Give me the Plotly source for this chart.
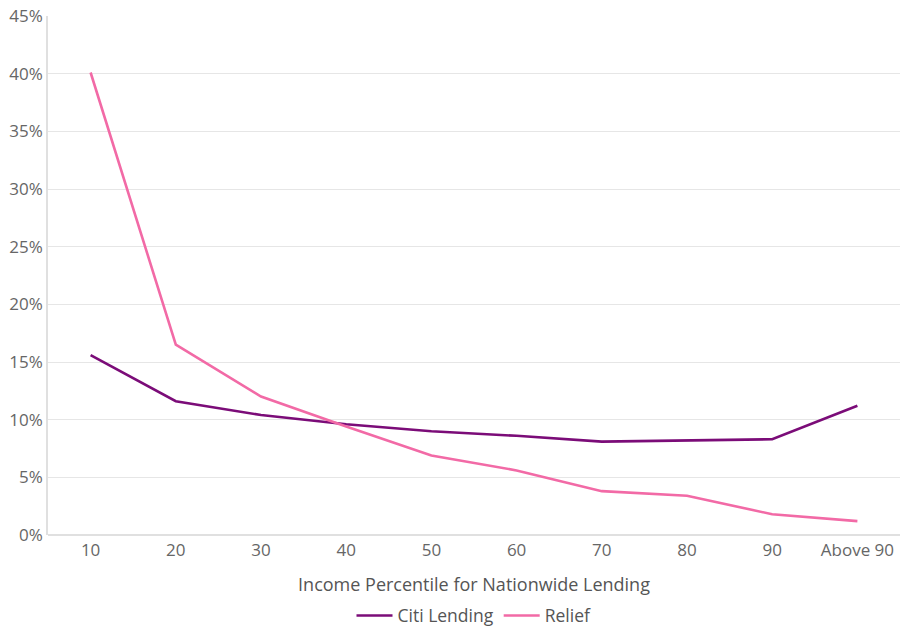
import plotly.graph_objects as go

categories = ["10", "20", "30", "40", "50", "60", "70", "80", "90", "Above 90"]
citi_lending = [15.6, 11.6, 10.4, 9.6, 9.0, 8.6, 8.1, 8.2, 8.3, 11.2]
relief = [40.1, 16.5, 12.0, 9.4, 6.9, 5.6, 3.8, 3.4, 1.8, 1.2]
y_ticks = [0, 5, 10, 15, 20, 25, 30, 35, 40, 45]
y_tick_labels = [f"{v}%" for v in y_ticks]

FONT = "'Open Sans', Lato, sans-serif"

fig = go.Figure()
fig.add_trace(go.Scatter(
    x=categories, y=citi_lending, name="Citi Lending", mode="lines",
    line=dict(color="#7b0c78", width=2.6),
))
fig.add_trace(go.Scatter(
    x=categories, y=relief, name="Relief", mode="lines",
    line=dict(color="#f26aa6", width=2.6),
))

fig.update_layout(
    width=902, height=628,
    margin=dict(l=48, r=2, t=16, b=93, autoexpand=False),
    paper_bgcolor="white", plot_bgcolor="white",
    font=dict(family=FONT, size=17, color="#666666"),
    showlegend=True,
    legend=dict(
        orientation="h", x=0.5, xanchor="center", y=-0.19, yanchor="bottom",
        font=dict(size=17.5, color="#555555"), itemwidth=36,
        bgcolor="rgba(0,0,0,0)", maxheight=60,
    ),
    xaxis=dict(
        type="category", range=[-0.5, 9.5], automargin=False,
        showgrid=False, showline=False, zeroline=False,
        ticks="", tickfont=dict(size=17, color="#666666"),
        ticklabelstandoff=3,
        title=dict(text="Income Percentile for Nationwide Lending",
                   font=dict(size=18, color="#555555"), standoff=18),
    ),
    yaxis=dict(
        range=[0, 45], tickvals=y_ticks, ticktext=y_tick_labels, automargin=False,
        showgrid=True, gridcolor="#e6e6e6", gridwidth=1.3,
        showline=True, linecolor="#e0e0e0", linewidth=1.5,
        zeroline=True, zerolinecolor="#e0e0e0", zerolinewidth=1.5,
        ticks="", tickfont=dict(size=17, color="#666666"),
        ticklabelstandoff=0,
    ),
)

fig.write_html("out.html")
